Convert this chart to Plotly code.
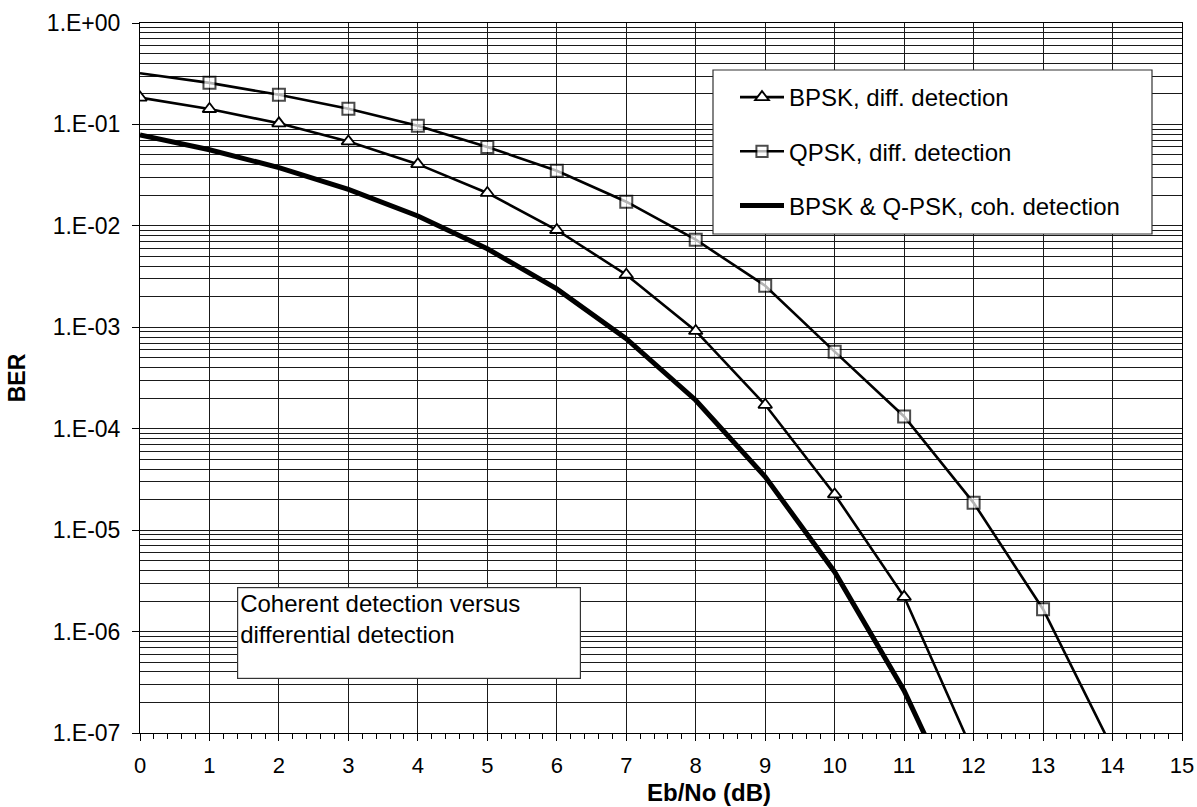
import plotly.graph_objects as go

# ---- data ----
ebno_bpsk_diff = [0, 1, 2, 3, 4, 5, 6, 7, 8, 9, 10, 11, 12]
ber_bpsk_diff = [0.184, 0.142, 0.1025, 0.068, 0.0406, 0.0211, 0.0091, 0.0033,
                 0.00092, 0.000172, 2.25e-5, 2.2e-6, 6.3e-8]

ebno_qpsk_diff = [0, 1, 2, 3, 4, 5, 6, 7, 8, 9, 10, 11, 12, 13, 14]
ber_qpsk_diff = [0.32, 0.257, 0.196, 0.143, 0.097, 0.060, 0.0349, 0.0173,
                 0.0073, 0.00257, 5.75e-4, 1.32e-4, 1.86e-5, 1.66e-6, 7.0e-8]

ebno_coh = [0, 1, 2, 3, 4, 5, 6, 7, 8, 9, 10, 11, 12]
ber_coh = [0.0786, 0.0563, 0.0375, 0.0229, 0.0125, 0.00595, 0.00239, 0.000773,
           0.000191, 3.36e-5, 3.87e-6, 2.61e-7, 9.0e-9]

x_ticks = list(range(0, 16))
y_tickvals = [1e-7, 1e-6, 1e-5, 1e-4, 1e-3, 1e-2, 1e-1, 1e0]
y_ticktext = ["1.E-07", "1.E-06", "1.E-05", "1.E-04", "1.E-03", "1.E-02", "1.E-01", "1.E+00"]

names = ["BPSK, diff. detection", "QPSK, diff. detection", "BPSK & Q-PSK, coh. detection"]
note_text = "Coherent detection versus<br>differential detection"
x_title = "Eb/No (dB)"
y_title = "BER"

FONT = "Liberation Sans, Arial, sans-serif"
GRID = "#1a1a1a"

fig = go.Figure()

fig.add_trace(go.Scatter(
    x=ebno_bpsk_diff, y=ber_bpsk_diff, name=names[0], mode="lines+markers",
    legendgroup="a",
    line=dict(color="black", width=2.6),
    marker=dict(symbol="triangle-up", size=12, color="white",
                line=dict(color="black", width=1.8)),
))

qpsk_sizes = [0] + [12] * (len(ebno_qpsk_diff) - 1)
fig.add_trace(go.Scatter(
    x=ebno_qpsk_diff, y=ber_qpsk_diff, name=names[1], mode="lines+markers",
    legendgroup="b",
    line=dict(color="black", width=2.6),
    marker=dict(symbol="square", size=qpsk_sizes, color="white",
                line=dict(color="black", width=2)),
))

fig.add_trace(go.Scatter(
    x=ebno_coh, y=ber_coh, name=names[2], mode="lines",
    legendgroup="c",
    line=dict(color="black", width=5),
))

# plot geometry in page pixels
L, R, T, B = 140, 1182, 23, 733
W, H = R - L, B - T


def px(xp):
    return (xp - L) / W


def py(yp):
    return (B - yp) / H


# legend frame
fig.add_shape(type="rect", xref="paper", yref="paper",
              x0=px(713), x1=px(1152), y0=py(234), y1=py(70),
              fillcolor="white", line=dict(color="#333333", width=1.2), layer="above")

# note box
fig.add_annotation(
    xref="paper", yref="paper", x=px(237), y=py(587), xanchor="left", yanchor="top",
    text=note_text, showarrow=False, align="left", valign="top",
    width=338, height=86, borderpad=2,
    bordercolor="#333333", borderwidth=1.2, bgcolor="white",
    font=dict(family=FONT, size=24, color="black"),
)

# x axis title (placed as in the reference, right of centre)
fig.add_annotation(
    xref="paper", yref="paper", x=px(709), y=py(793), xanchor="center", yanchor="middle",
    text="<b>" + x_title + "</b>", showarrow=False,
    font=dict(family=FONT, size=24, color="black"),
)

fig.update_layout(
    width=1197, height=807,
    margin=dict(l=L, r=1197 - R, t=T, b=807 - B),
    paper_bgcolor="white", plot_bgcolor="white",
    font=dict(family=FONT, size=23, color="black"),
    showlegend=True,
    legend=dict(
        x=px(735), y=py(75), xanchor="left", yanchor="top",
        bgcolor="rgba(0,0,0,0)", borderwidth=0,
        font=dict(family=FONT, size=24, color="black"),
        itemwidth=44, tracegroupgap=20, traceorder="grouped",
    ),
)

fig.update_xaxes(
    range=[0, 15], tickmode="array", tickvals=x_ticks,
    ticks="outside", ticklen=7, tickcolor="black", tickwidth=1,
    showline=True, linecolor="black", linewidth=1, mirror=True,
    showgrid=True, gridcolor=GRID, gridwidth=1, zeroline=False,
    minor=dict(dtick=0.2, ticks="outside", ticklen=5, tickcolor="black", showgrid=False),
    tickfont=dict(family=FONT, size=22, color="black"),
    ticklabelstandoff=6,
    automargin=False,
)

fig.update_yaxes(
    type="log", range=[-7, 0], tickmode="array", tickvals=y_tickvals, ticktext=y_ticktext,
    ticks="outside", ticklen=7, tickcolor="black", tickwidth=1,
    showline=True, linecolor="black", linewidth=1, mirror=True,
    showgrid=True, gridcolor=GRID, gridwidth=1, zeroline=False,
    minor=dict(dtick="D1", showgrid=True, gridcolor=GRID, gridwidth=1, ticks=""),
    tickfont=dict(family=FONT, size=23, color="black"),
    ticklabelstandoff=7,
    automargin=False,
    title=dict(text="<b>" + y_title + "</b>", font=dict(family=FONT, size=23, color="black"),
               standoff=14),
)

page_css = ("document.body.style.margin='0';"
            "document.body.style.overflow='hidden';"
            "document.documentElement.style.overflow='hidden';")

fig.write_html("out.html", post_script=page_css,
               config={"displayModeBar": False, "staticPlot": True})
